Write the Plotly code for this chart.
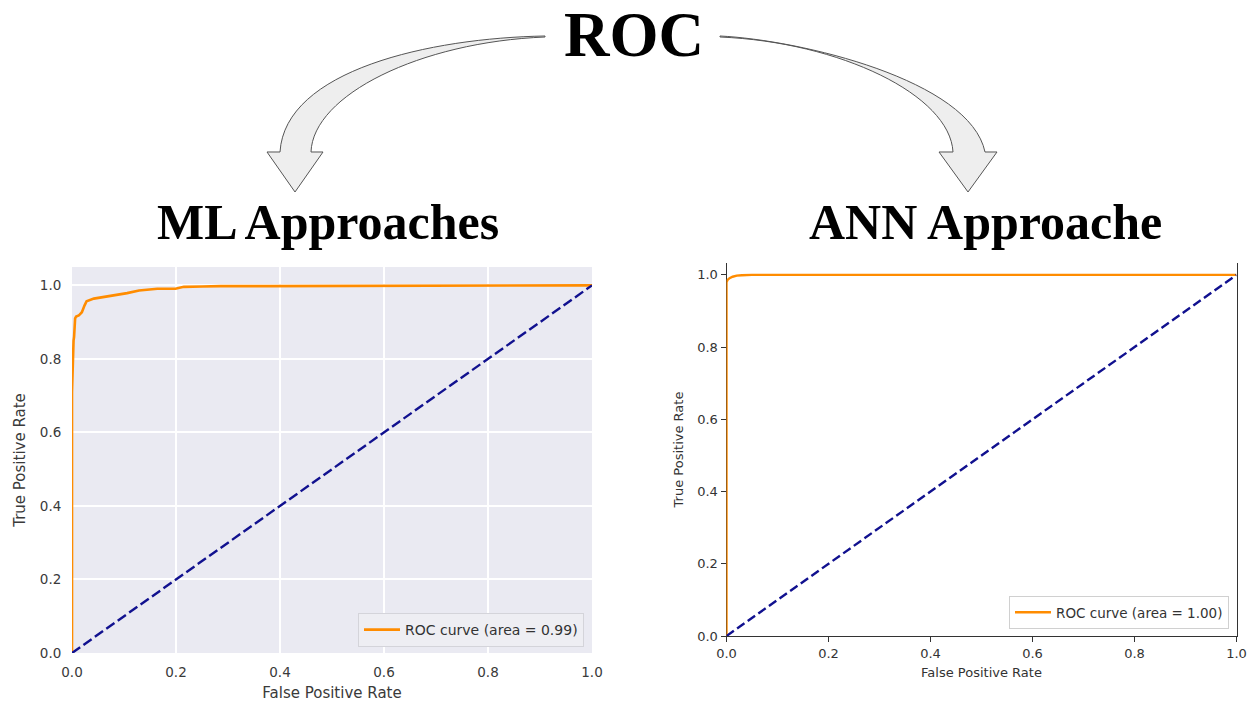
import plotly.graph_objects as go

W, H = 1250, 702

# ---------------- data ----------------
ml_fpr = [0.0, 0.0, 0.003, 0.004, 0.006, 0.008, 0.013, 0.019, 0.024, 0.028, 0.042, 0.06, 0.074,
          0.09, 0.106, 0.129, 0.145, 0.164, 0.199, 0.215, 0.25, 0.286, 0.38, 0.59, 0.60, 1.0]
ml_tpr = [0.0, 0.71, 0.85, 0.86, 0.91, 0.915, 0.918, 0.927, 0.945, 0.957, 0.964, 0.968, 0.973,
          0.976, 0.979, 0.986, 0.988, 0.991, 0.991, 0.996, 0.997, 0.998, 0.998, 0.998, 1.0, 1.0]
ann_fpr = [0.0, 0.0, 0.002, 0.006, 0.012, 0.02, 0.03, 0.05, 1.0]
ann_tpr = [0.0, 0.98, 0.986, 0.991, 0.995, 0.998, 0.999, 1.0, 1.0]
chance = [0.0, 1.0]
ml_label = "ROC curve (area = 0.99)"
ann_label = "ROC curve (area = 1.00)"
ticks = [0.0, 0.2, 0.4, 0.6, 0.8, 1.0]
tick_text = ["0.0", "0.2", "0.4", "0.6", "0.8", "1.0"]
main_title = "ROC"
left_title = "ML Approaches"
right_title = "ANN Approache"


def px(x):
    return x / W


def py(y):
    return 1 - y / H


fig = go.Figure()

# left (seaborn-like) chart
fig.add_trace(go.Scatter(x=ml_fpr, y=ml_tpr, mode="lines", name=ml_label,
                         line=dict(color="#FF8C00", width=2.6), xaxis="x", yaxis="y",
                         legend="legend"))
fig.add_trace(go.Scatter(x=chance, y=chance, mode="lines", showlegend=False,
                         line=dict(color="#11118f", width=2.4, dash="10px,4px"),
                         xaxis="x", yaxis="y"))
# right (matplotlib classic) chart
fig.add_trace(go.Scatter(x=ann_fpr, y=ann_tpr, mode="lines", name=ann_label,
                         line=dict(color="#FF8C00", width=2.4), xaxis="x2", yaxis="y2",
                         legend="legend2"))
fig.add_trace(go.Scatter(x=chance, y=chance, mode="lines", showlegend=False,
                         line=dict(color="#11118f", width=2.4, dash="9px,4px"),
                         xaxis="x2", yaxis="y2"))

font = "DejaVu Sans"
lcol = "#3a3a3a"

fig.update_layout(
    width=W, height=H,
    margin=dict(l=0, r=0, t=0, b=0, autoexpand=False),
    paper_bgcolor="white",
    plot_bgcolor="rgba(0,0,0,0)",
    font=dict(family=font, color=lcol),
    xaxis=dict(domain=[px(72), px(592)], range=[0, 1], tickvals=ticks, ticktext=tick_text,
               showgrid=True, gridcolor="white", gridwidth=1.5, zeroline=False, showline=False,
               ticks="outside", ticklen=7, tickcolor="rgba(0,0,0,0)", automargin=False,
               tickfont=dict(size=13.5, color=lcol),
               title=dict(text="False Positive Rate", font=dict(size=15, color=lcol), standoff=8),
               anchor="y"),
    yaxis=dict(domain=[py(653), py(267)], range=[0, 1.05], tickvals=ticks, ticktext=tick_text,
               showgrid=True, gridcolor="white", gridwidth=1.5, zeroline=False, showline=False,
               ticks="outside", ticklen=7, tickcolor="rgba(0,0,0,0)", automargin=False,
               tickfont=dict(size=13.5, color=lcol),
               title=dict(text="True Positive Rate", font=dict(size=15, color=lcol), standoff=10),
               anchor="x"),
    xaxis2=dict(domain=[px(726.5), px(1236.5)], range=[0, 1], tickvals=ticks, ticktext=tick_text,
                showgrid=False, zeroline=False, showline=True, linecolor="#333", linewidth=1,
                ticks="outside", ticklen=5, tickcolor="#333", tickwidth=1, automargin=False,
                tickfont=dict(size=13, color="#333"),
                title=dict(text="False Positive Rate", font=dict(size=13, color="#333"), standoff=8),
                anchor="y2"),
    yaxis2=dict(domain=[py(636), py(263)], range=[0, 1.033], tickvals=ticks, ticktext=tick_text,
                showgrid=False, zeroline=False, showline=True, linecolor="#333", linewidth=1,
                mirror=True, layer="below traces", automargin=False,
                ticks="outside", ticklen=5, tickcolor="#333", tickwidth=1,
                tickfont=dict(size=13, color="#333"),
                title=dict(text="True Positive Rate", font=dict(size=13, color="#333"), standoff=10),
                anchor="x2"),
    legend=dict(x=px(584), y=py(647), xanchor="right", yanchor="bottom",
                bgcolor="#EEEEF3", bordercolor="#D4D4DA", borderwidth=1, itemwidth=36,
                font=dict(size=14, color="#333", family=font)),
    legend2=dict(x=px(1229), y=py(629), xanchor="right", yanchor="bottom",
                 bgcolor="white", bordercolor="#D0D0D0", borderwidth=1, itemwidth=36,
                 font=dict(size=13.5, color="#333", family=font)),
)

# left plot background (seaborn darkgrid)
fig.add_shape(type="rect", xref="x domain", yref="y domain", x0=0, x1=1, y0=0, y1=1,
              fillcolor="#EAEAF2", line=dict(width=0), layer="below")


def path(points_cmds):
    out = []
    for cmd, pts in points_cmds:
        s = cmd
        s += " ".join(f"{px(x):.5f},{py(y):.5f}" for x, y in pts)
        out.append(s)
    return " ".join(out) + " Z"


left_arrow = path([
    ("M", [(545, 36)]),
    ("C", [(430, 38), (285, 70), (280, 152)]),
    ("L", [(267, 152)]),
    ("L", [(295, 192)]),
    ("L", [(323, 152)]),
    ("L", [(311, 152)]),
    ("C", [(313, 95), (420, 42), (545, 37)]),
])
right_arrow = path([
    ("M", [(720, 36)]),
    ("C", [(800, 40), (970, 80), (985, 152)]),
    ("L", [(997, 152)]),
    ("L", [(968, 192)]),
    ("L", [(939, 152)]),
    ("L", [(953, 152)]),
    ("C", [(950, 95), (840, 42), (720, 37)]),
])
for p in (left_arrow, right_arrow):
    fig.add_shape(type="path", xref="paper", yref="paper", path=p,
                  fillcolor="#EEEEEE", line=dict(color="#555555", width=1), layer="above")

serif = "Liberation Serif"
fig.add_annotation(x=px(634), y=py(35), xref="paper", yref="paper", text=f"<b>{main_title}</b>",
                   showarrow=False, xanchor="center", yanchor="middle",
                   font=dict(family=serif, size=63, color="black"))
fig.add_annotation(x=px(327.5), y=py(222), xref="paper", yref="paper", text=f"<b>{left_title}</b>",
                   showarrow=False, xanchor="center", yanchor="middle",
                   font=dict(family=serif, size=50, color="black"))
fig.add_annotation(x=px(985.5), y=py(222), xref="paper", yref="paper", text=f"<b>{right_title}</b>",
                   showarrow=False, xanchor="center", yanchor="middle",
                   font=dict(family=serif, size=50, color="black"))

fig.write_html("out.html", config={"displayModeBar": False},
               post_script="document.body.style.margin='0px';document.body.style.overflow='hidden';")
